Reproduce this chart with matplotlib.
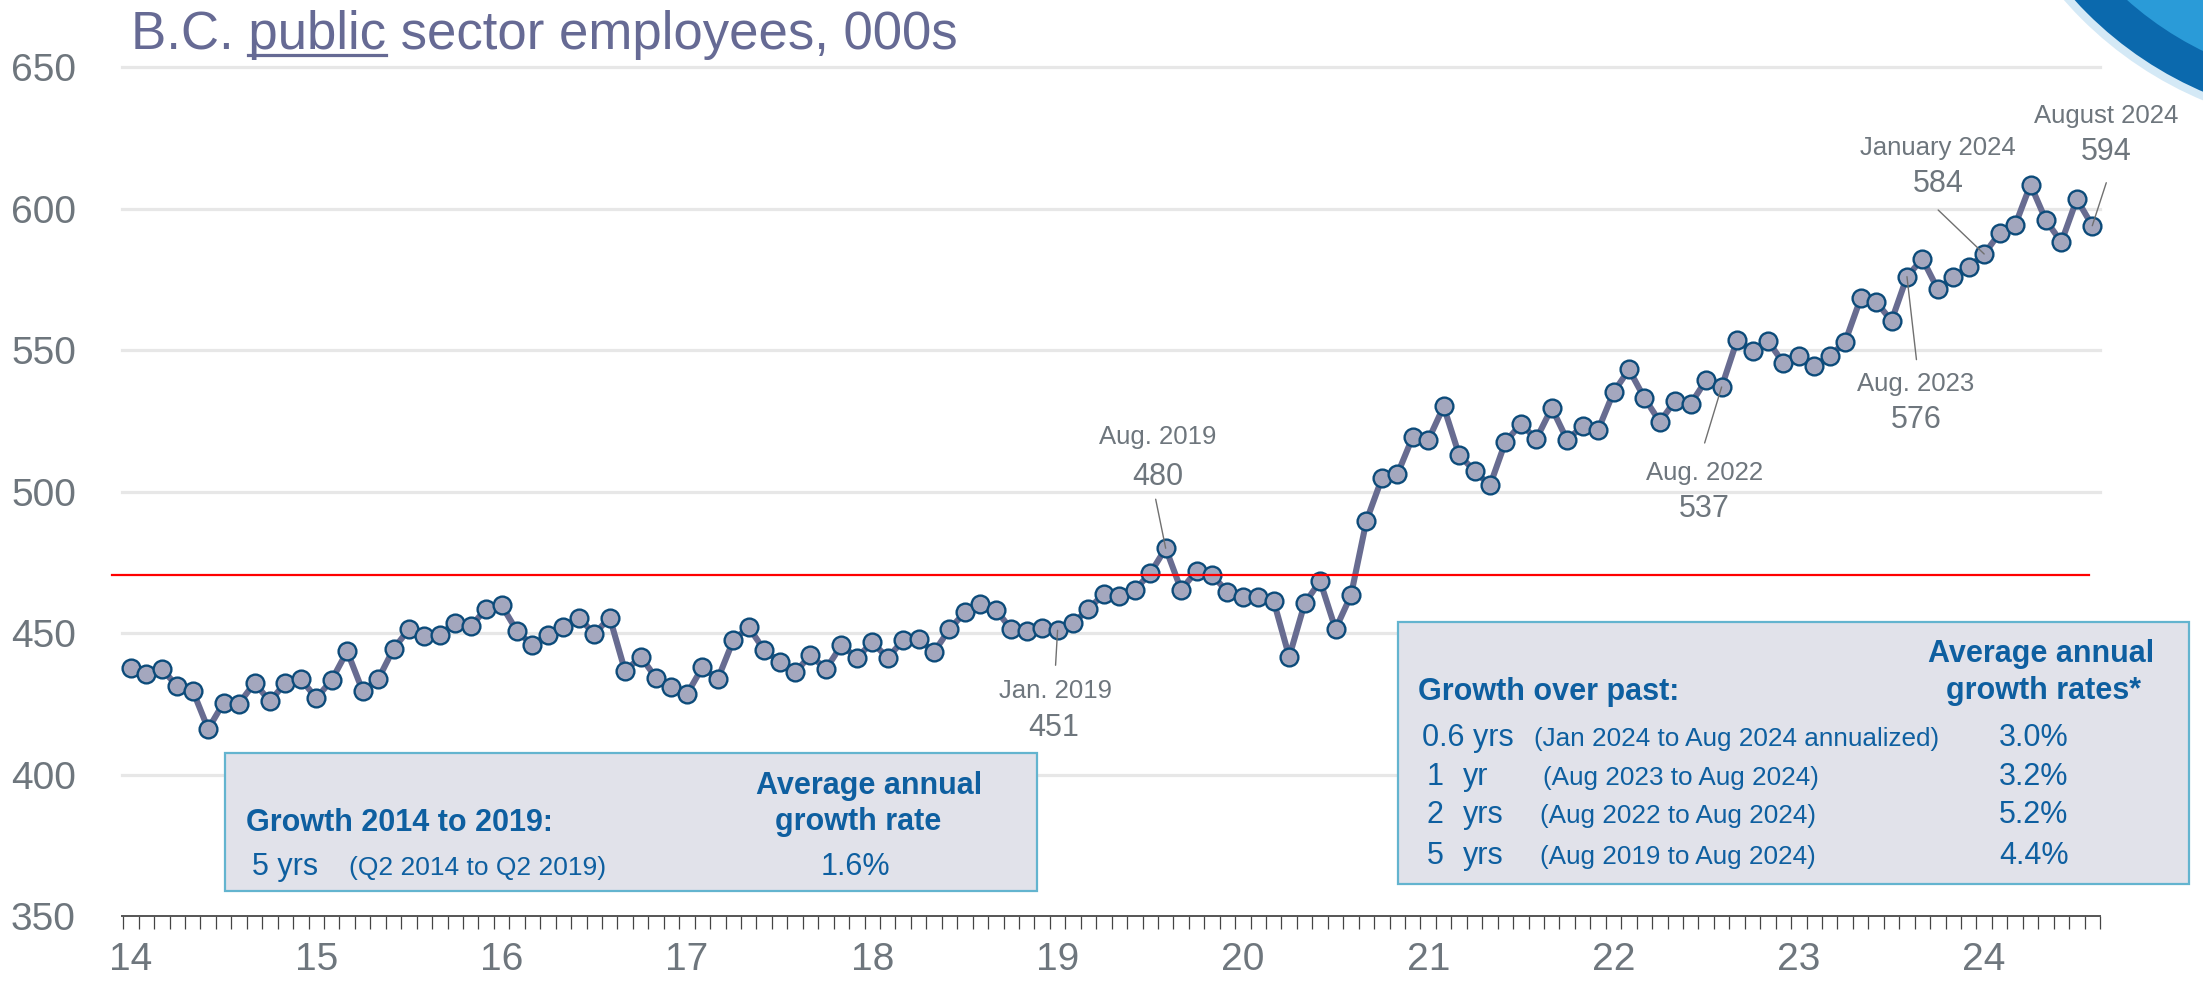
import matplotlib
matplotlib.use('Agg')
import matplotlib.pyplot as plt
from matplotlib.patches import Rectangle, Ellipse
from matplotlib.lines import Line2D
import numpy as np

# ---------------- data ----------------
year_labels = ['14', '15', '16', '17', '18', '19', '20', '21', '22', '23', '24']
# monthly B.C. public sector employees (000s), Jan 2014 .. Aug 2024
employees = [
    437.6, 435.4, 437.2, 431.3, 429.7, 416.1, 425.4, 425.1, 432.4, 425.9, 432.4, 433.8,   # 2014
    427.0, 433.4, 443.6, 429.6, 433.6, 444.4, 451.4, 449.0, 449.4, 453.7, 452.4, 458.6,   # 2015
    459.8, 450.7, 445.7, 449.3, 452.1, 455.5, 449.7, 455.5, 436.5, 441.7, 434.2, 431.1,   # 2016
    428.4, 437.9, 433.8, 447.4, 452.1, 444.0, 439.9, 436.1, 442.2, 437.2, 445.7, 441.3,   # 2017
    446.7, 441.3, 447.4, 447.8, 443.3, 451.4, 457.3, 460.2, 458.2, 451.4, 450.7, 451.7,   # 2018
    451.0, 453.5, 458.5, 463.9, 463.2, 465.3, 471.1, 480.0, 465.3, 472.0, 470.4, 464.7,   # 2019
    462.6, 462.6, 461.2, 441.6, 460.5, 468.4, 451.4, 463.4, 489.7, 504.7, 506.1, 519.4,   # 2020
    518.2, 530.1, 513.0, 507.3, 502.2, 517.6, 523.9, 518.6, 529.6, 518.2, 523.3, 521.8,   # 2021
    535.1, 543.2, 533.1, 524.7, 532.2, 531.0, 539.5, 537.0, 553.5, 549.7, 553.2, 545.5,   # 2022
    547.9, 544.3, 547.9, 553.0, 568.3, 567.1, 560.4, 576.0, 582.3, 571.5, 575.8, 579.3,   # 2023
    584.0, 591.4, 594.1, 608.5, 595.9, 588.2, 603.4, 594.0,                               # 2024
]
reference_level = 470.5
y_ticks = [350, 400, 450, 500, 550, 600, 650]

# annotated points: (month index, caption, value text)
annotated = [
    (67, 'Aug. 2019', '480'),
    (60, 'Jan. 2019', '451'),
    (103, 'Aug. 2022', '537'),
    (115, 'Aug. 2023', '576'),
    (120, 'January 2024', '584'),
    (127, 'August 2024', '594'),
]

title = 'B.C. public sector employees, 000s'

left_box_head = 'Growth 2014 to 2019:'
left_box_col = ['Average annual', 'growth rate']
left_box_row = ('5 yrs', '(Q2 2014 to Q2 2019)', '1.6%')

right_box_head = 'Growth over past:'
right_box_col = ['Average annual', 'growth rates*']
right_box_rows = [
    ('0.6 yrs', '', '(Jan 2024 to Aug 2024 annualized)', '3.0%'),
    ('1', 'yr', '(Aug 2023 to Aug 2024)', '3.2%'),
    ('2', 'yrs', '(Aug 2022 to Aug 2024)', '5.2%'),
    ('5', 'yrs', '(Aug 2019 to Aug 2024)', '4.4%'),
]

# ---------------- style ----------------
W, H, DPI = 2203, 981, 100
plt.rcParams['font.family'] = ['Liberation Sans', 'DejaVu Sans']

GRAY_TXT = '#6e767d'
BLUE_TXT = '#0e5fa0'
TITLE_C = '#666a94'
LINE_C = '#686c91'
MFC = '#a4a7be'
MEC = '#0c4b7a'


def fx(px):
    return px / W


def fy(py):
    return 1 - py / H


fig = plt.figure(figsize=(W / DPI, H / DPI), dpi=DPI)

ax_left_px, ax_right_px = 121.7, 2100.0
ax_top_px, ax_bot_px = 67.3, 916.0
ax = fig.add_axes([fx(ax_left_px), fy(ax_bot_px),
                   (ax_right_px - ax_left_px) / W, (ax_bot_px - ax_top_px) / H])
ax.set_xlim(-0.6, 127.45)
ax.set_ylim(350, 650)
ax.patch.set_visible(False)
for s in ['top', 'right', 'left']:
    ax.spines[s].set_visible(False)
ax.spines['bottom'].set_color('#555555')
ax.spines['bottom'].set_linewidth(1.4)

for g in y_ticks[1:]:
    ax.axhline(g, color='#e7e7e7', lw=2.3, zorder=0, clip_on=False)

x = np.arange(len(employees))
ax.plot(x, employees, color=LINE_C, lw=4.4, marker='o', ms=12.8, mfc=MFC, mec=MEC,
        mew=1.7, zorder=3, clip_on=False)
ax.plot([-1.2, 126.8], [reference_level, reference_level], color='#ff0000', lw=1.6,
        zorder=4, clip_on=False)

ax.set_xticks(np.arange(0, len(employees), 12))
ax.set_xticklabels(year_labels)
ax.set_xticks(np.arange(-0.5, len(employees) + 0.5, 1), minor=True)
ax.tick_params(axis='x', which='major', length=0, labelsize=28, labelcolor=GRAY_TXT, pad=19)
ax.tick_params(axis='x', which='minor', length=9.5, width=0.9, color='#444444', direction='out')
ax.set_yticks(y_ticks)
ax.tick_params(axis='y', length=0, labelsize=28, labelcolor=GRAY_TXT, pad=33)

# ---------------- annotations ----------------
# offsets in pixels from the point: caption centre, value centre, leader start
ann_offsets = {
    67: ((-8, -113), (-8, -74), (-10, -49)),
    60: ((-2, 59), (-4, 95), (-2, 35)),
    103: ((-17, 84), (-17, 119), (-17, 56)),
    115: ((9, 105), (9, 140), (9.5, 83)),
    120: ((-46, -108), (-46, -73), (-46, -44)),
    127: ((13.5, -112), (13.5, -77), (14, -43)),
}
K = 72.0 / DPI
for idx, cap, val in annotated:
    (cdx, cdy), (vdx, vdy), (ldx, ldy) = ann_offsets[idx]
    xy = (idx, employees[idx])
    ax.annotate(cap, xy=xy, xytext=(cdx * K, -(cdy + 9.2) * K), textcoords='offset points',
                ha='center', va='baseline', fontsize=18.5, color=GRAY_TXT, zorder=6)
    ax.annotate(val, xy=xy, xytext=(vdx * K, -(vdy + 11) * K), textcoords='offset points',
                ha='center', va='baseline', fontsize=22, color=GRAY_TXT, zorder=6)
    ax.annotate('', xy=xy, xytext=(ldx * K, -ldy * K), textcoords='offset points',
                arrowprops=dict(arrowstyle='-', color='#707070', lw=1.0,
                                shrinkA=0, shrinkB=0), zorder=6)

# ---------------- title with underline ----------------
tx, tb = 131, 49
fig.text(fx(tx), fy(tb), title, fontsize=38, color=TITLE_C, ha='left', va='baseline')
renderer = fig.canvas.get_renderer()


def text_width(s, **kw):
    t = fig.text(0, 0, s, **kw)
    w = t.get_window_extent(renderer).width
    t.remove()
    return w


w_pre = text_width('B.C. public', fontsize=38)
w_pub = text_width('public', fontsize=38)
fig.add_artist(Line2D([fx(tx + w_pre - w_pub), fx(tx + w_pre)], [fy(tb + 6), fy(tb + 6)],
                      color=TITLE_C, lw=2.3, transform=fig.transFigure))

# ---------------- boxes ----------------
def box(x0, y0, x1, y1):
    fig.add_artist(Rectangle((fx(x0), fy(y1)), (x1 - x0) / W, (y1 - y0) / H,
                             transform=fig.transFigure, facecolor='#e1e2ea',
                             edgecolor='#63b4cf', lw=1.6, zorder=2))


def ftext(px, py, s, size=22, bold=False, ha='left'):
    fig.text(fx(px), fy(py), s, fontsize=size, color=BLUE_TXT, ha=ha, va='baseline',
             fontweight='bold' if bold else 'normal', zorder=3)


box(225, 753, 1037, 891)
ftext(246, 831, left_box_head, bold=True)
ftext(869.5, 794, left_box_col[0], bold=True, ha='center')
ftext(858, 830, left_box_col[1], bold=True, ha='center')
ftext(252, 875, left_box_row[0])
ftext(349, 875, left_box_row[1], size=19)
ftext(855, 875, left_box_row[2], ha='center')

box(1398, 622, 2189, 884)
ftext(1418.5, 700, right_box_head, bold=True)
ftext(2041, 662, right_box_col[0], bold=True, ha='center')
ftext(2044, 699, right_box_col[1], bold=True, ha='center')
row_base = [746, 785, 823, 864]
paren_x = [1534, 1542.7, 1540, 1540]
for (a, b, c, d), yb, px in zip(right_box_rows, row_base, paren_x):
    if b:
        ftext(1427, yb, a)
        ftext(1462.5, yb, b)
    else:
        ftext(1422, yb, a)
    ftext(px, yb, c, size=18.8)
    ftext(1999, yb, d)

# ---------------- corner swoosh ----------------
cx, cy = 2350, -250
for r, col in [(380, '#d4e9f6'), (372, '#0b69ad'), (335, '#2a9bd8')]:
    fig.add_artist(Ellipse((fx(cx), fy(cy)), 2 * r / W, 2 * r / H, transform=fig.transFigure,
                           facecolor=col, edgecolor='none', zorder=1))

fig.savefig('out.png', dpi=DPI)
